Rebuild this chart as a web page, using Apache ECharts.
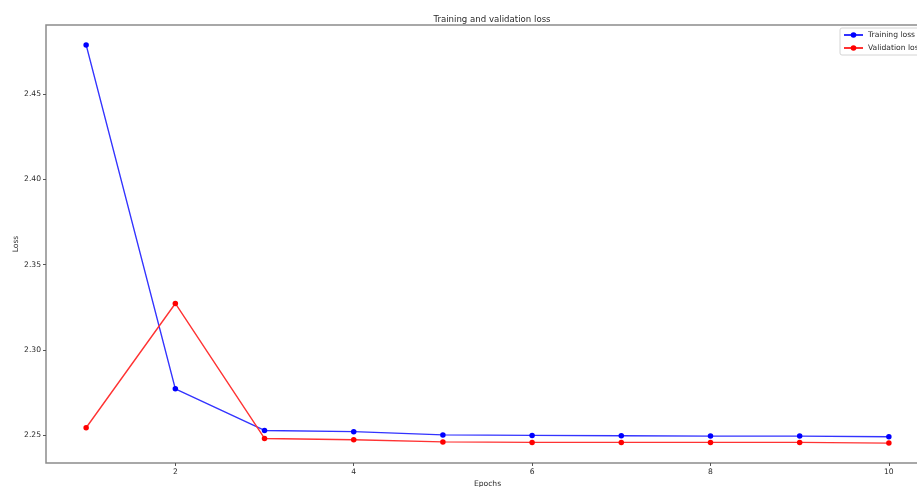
<!DOCTYPE html>
<html>
<head>
<meta charset="utf-8">
<title>Training and validation loss</title>
<script src="https://cdn.jsdelivr.net/npm/echarts@6/dist/echarts.min.js"></script>
<style>
  html, body { margin: 0; padding: 0; background: #fff; }
  #chart { width: 917px; height: 487px; }
</style>
</head>
<body>
<div id="chart"></div>
<script>
// Loss per epoch
const epochs = [1, 2, 3, 4, 5, 6, 7, 8, 9, 10];
const trainingLoss = [2.4788, 2.2773, 2.2529, 2.2522, 2.2503, 2.2500, 2.2498, 2.2496, 2.2496, 2.2492];
const validationLoss = [2.2545, 2.3273, 2.2482, 2.2475, 2.2462, 2.2459, 2.2459, 2.2459, 2.2459, 2.2455];

// Tick positions
const xTicks = [2, 4, 6, 8, 10];
const yTicks = [2.25, 2.30, 2.35, 2.40, 2.45];

const FONT = 'DejaVu Sans';
const TEXT = '#2a2a2a';
const FRAME = '#8c8c8c';

// 5% padding on each side of the data range
const pad = (lo, hi) => ({ min: lo - 0.05 * (hi - lo), max: hi + 0.05 * (hi - lo) });
const xr = pad(Math.min(...epochs), Math.max(...epochs));
const allY = trainingLoss.concat(validationLoss);
const yr = pad(Math.min(...allY), Math.max(...allY));

const chart = echarts.init(document.getElementById('chart'), null, { renderer: 'canvas' });

chart.setOption({
  animation: false,
  backgroundColor: '#fff',
  title: {
    text: 'Training and validation loss',
    left: 487,
    top: 10,
    textAlign: 'center',
    textStyle: { fontFamily: FONT, fontSize: 8.6, fontWeight: 'normal', color: TEXT }
  },
  legend: {
    orient: 'vertical',
    left: 840,
    top: 28,
    padding: [3, 4, 3, 3],
    itemWidth: 19,
    itemHeight: 7,
    itemGap: 5,
    backgroundColor: '#fff',
    borderColor: '#d4d4d4',
    borderWidth: 1,
    borderRadius: 2,
    textStyle: { fontFamily: FONT, fontSize: 7.6, color: TEXT },
    data: ['Training loss', 'Validation loss']
  },
  grid: {
    left: 46,
    top: 25,
    width: 883,
    height: 438,
    outerBoundsMode: 'none',
    containLabel: false,
    show: true,
    borderColor: FRAME,
    borderWidth: 1.5,
    backgroundColor: 'transparent'
  },
  xAxis: {
    type: 'value',
    min: xr.min,
    max: xr.max,
    name: 'Epochs',
    nameLocation: 'middle',
    nameGap: 17,
    nameMoveOverlap: false,
    nameTextStyle: { fontFamily: FONT, fontSize: 7.6, color: TEXT },
    axisLine: { show: false },
    splitLine: { show: false },
    axisTick: { show: true, length: 3, lineStyle: { color: '#555' }, customValues: xTicks },
    axisLabel: {
      fontFamily: FONT, fontSize: 7.6, color: TEXT, margin: 5,
      customValues: xTicks,
      formatter: v => String(v)
    }
  },
  yAxis: {
    type: 'value',
    min: yr.min,
    max: yr.max,
    name: 'Loss',
    nameLocation: 'middle',
    nameGap: 26,
    nameRotate: 90,
    nameMoveOverlap: false,
    nameTextStyle: { fontFamily: FONT, fontSize: 7.6, color: TEXT },
    axisLine: { show: false },
    splitLine: { show: false },
    axisTick: { show: true, length: 3, lineStyle: { color: '#555' }, customValues: yTicks },
    axisLabel: {
      fontFamily: FONT, fontSize: 7.6, color: TEXT, margin: 5,
      customValues: yTicks,
      formatter: v => v.toFixed(2)
    }
  },
  series: [
    {
      name: 'Training loss',
      type: 'line',
      data: epochs.map((e, i) => [e, trainingLoss[i]]),
      symbol: 'circle',
      symbolSize: 5.5,
      lineStyle: { color: '#3333ff', width: 1.4 },
      itemStyle: { color: '#0000ff' }
    },
    {
      name: 'Validation loss',
      type: 'line',
      data: epochs.map((e, i) => [e, validationLoss[i]]),
      symbol: 'circle',
      symbolSize: 5.5,
      lineStyle: { color: '#ff3333', width: 1.4 },
      itemStyle: { color: '#ff0000' }
    }
  ]
});
</script>
</body>
</html>
